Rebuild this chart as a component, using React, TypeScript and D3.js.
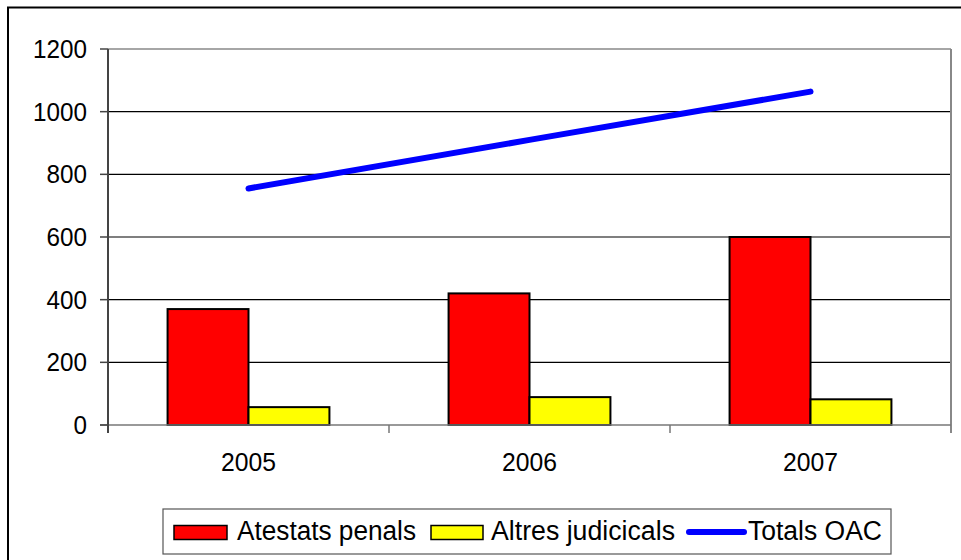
import React from "react";
import * as d3 from "d3";

const years = ["2005", "2006", "2007"];
const atestatsPenals = [370, 420, 600];
const altresJudicials = [57, 89, 82];
const totalsOAC = [755, 910, 1064];
const yTicks = [0, 200, 400, 600, 800, 1000, 1200];

const W = 961;
const H = 560;
const left = 108;
const right = 951;
const top = 49;
const bottom = 425;

export default function App() {
  const x = d3.scaleBand<string>().domain(years).range([left, right]).paddingInner(0).paddingOuter(0);
  const y = d3.scaleLinear().domain([0, 1200]).range([bottom, top]);
  const bw = x.bandwidth();
  const barW = bw * 0.288;
  const center = (c: string) => (x(c) as number) + bw / 2;
  const line = d3
    .line<number>()
    .x((_, i) => center(years[i]))
    .y((d) => y(d));
  const font = "'Liberation Sans', Arial, sans-serif";

  return (
    <svg
      width={W}
      height={H}
      style={{ position: "absolute", left: 0, top: 0, background: "#fff" }}
      fontFamily={font}
    >
      <rect x={8} y={7.5} width={980} height={600} fill="#fff" stroke="#000" strokeWidth={2} />
      {/* gridlines */}
      {yTicks.map((t) =>
        t > 0 && t < 1200 ? (
          <line key={"g" + t} x1={left} x2={right} y1={y(t)} y2={y(t)} stroke="#000" strokeWidth={1.2} />
        ) : null
      )}
      {/* plot top/right border */}
      <line x1={left} x2={right} y1={top} y2={top} stroke="#888" strokeWidth={1.5} />
      <line x1={right} x2={right} y1={top} y2={bottom + 8} stroke="#888" strokeWidth={2} />
      {/* bars */}
      {years.map((c, i) => (
        <g key={c}>
          <rect
            x={center(c) - barW}
            y={y(atestatsPenals[i])}
            width={barW}
            height={bottom - y(atestatsPenals[i])}
            fill="#ff0000"
            stroke="#000"
            strokeWidth={2}
          />
          <rect
            x={center(c)}
            y={y(altresJudicials[i])}
            width={barW}
            height={bottom - y(altresJudicials[i])}
            fill="#ffff00"
            stroke="#000"
            strokeWidth={2}
          />
        </g>
      ))}
      {/* x axis */}
      <line x1={left - 8} x2={right} y1={bottom} y2={bottom} stroke="#777" strokeWidth={1.5} />
      {years.map((c) => (
        <line key={"xt" + c} x1={x(c) as number} x2={x(c) as number} y1={bottom} y2={bottom + 8} stroke="#777" strokeWidth={1.5} />
      ))}
      {/* y axis */}
      <line x1={left} x2={left} y1={top} y2={bottom + 8} stroke="#444" strokeWidth={2} />
      {yTicks.map((t) => (
        <g key={"yt" + t}>
          <line x1={left - 8} x2={left} y1={y(t)} y2={y(t)} stroke="#444" strokeWidth={1.5} />
          <text x={87} y={y(t) + 9} textAnchor="end" fontSize={25} fill="#000" textLength={String(t).length * 13.5} lengthAdjust="spacingAndGlyphs">
            {t}
          </text>
        </g>
      ))}
      {years.map((c) => (
        <text key={"xl" + c} x={center(c)} y={471} textAnchor="middle" fontSize={25} fill="#000" textLength={55} lengthAdjust="spacingAndGlyphs">
          {c}
        </text>
      ))}
      {/* line */}
      <path d={line(totalsOAC) || ""} fill="none" stroke="#0000ff" strokeWidth={6} strokeLinecap="round" />
      {/* legend */}
      <rect x={163} y={509} width={728} height={45} fill="#fff" stroke="#555" strokeWidth={1.2} />
      <rect x={174} y={525.5} width={53} height={14} fill="#ff0000" stroke="#000" strokeWidth={1.5} />
      <text x={237} y={539.5} fontSize={27} fill="#000" textLength={179} lengthAdjust="spacingAndGlyphs">
        Atestats penals
      </text>
      <rect x={431} y={525.5} width={52} height={14} fill="#ffff00" stroke="#000" strokeWidth={1.5} />
      <text x={491} y={539.5} fontSize={27} fill="#000" textLength={184} lengthAdjust="spacingAndGlyphs">
        Altres judicicals
      </text>
      <line x1={689} x2={744} y1={532} y2={532} stroke="#0000ff" strokeWidth={6} strokeLinecap="round" />
      <text x={748} y={539.5} fontSize={27} fill="#000" textLength={134} lengthAdjust="spacingAndGlyphs">
        Totals OAC
      </text>
    </svg>
  );
}
